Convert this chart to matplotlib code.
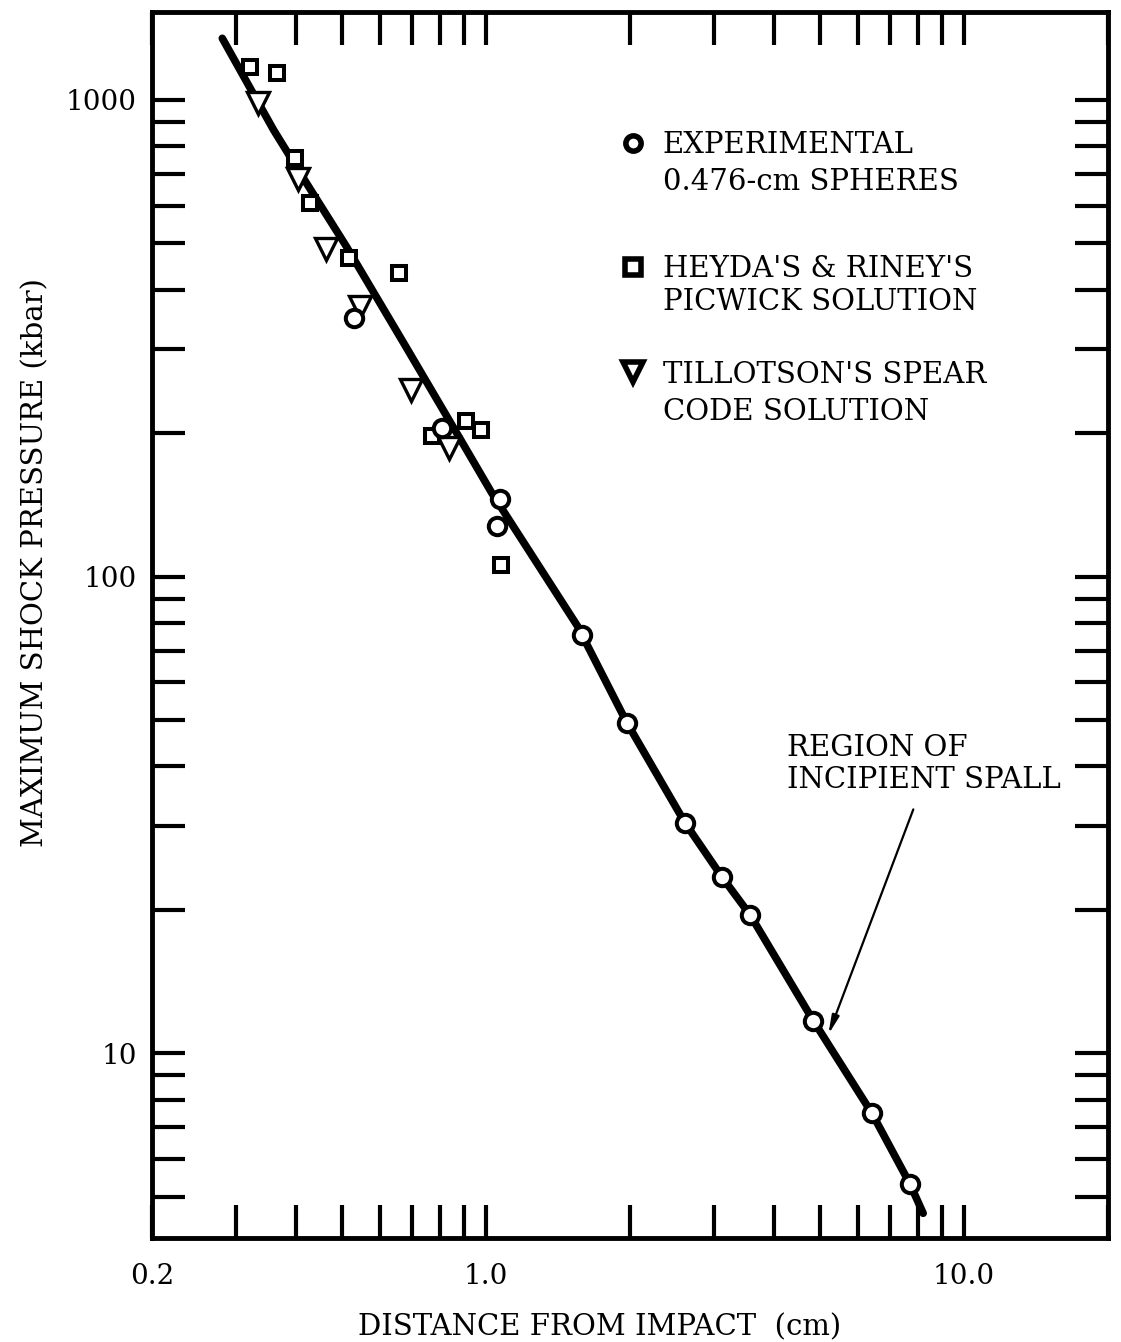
import matplotlib
matplotlib.use("Agg")
import matplotlib.pyplot as plt
from matplotlib.ticker import FixedLocator, LogLocator, NullFormatter

plt.rcParams['font.family'] = ['DejaVu Serif']

# experimental points, 0.476-cm spheres
exp_x = [0.530, 0.809, 1.069, 1.055, 1.59, 1.97, 2.61, 3.12, 3.57, 4.84, 6.41, 7.70]
exp_y = [349, 205, 145.5, 128, 75.6, 49.4, 30.4, 23.4, 19.5, 11.7, 7.5, 5.33]

# Heyda & Riney PICWICK solution
pic_x = [0.321, 0.366, 0.398, 0.428, 0.5165, 0.658, 0.771, 0.909, 0.976, 1.073]
pic_y = [1174, 1138, 755, 607, 466, 434, 197, 212, 203, 106]

# Tillotson SPEAR code solution
spear_x = [0.333, 0.405, 0.463, 0.545, 0.6955, 0.835]
spear_y = [984, 682, 486, 368, 246, 186]

# faired curve
curve_x = [0.2806, 0.3593, 0.421, 0.510, 0.679, 0.876, 1.027, 1.554, 1.97,
           2.61, 3.12, 3.57, 4.84, 6.41, 7.70, 8.21]
curve_y = [1347, 865, 669, 493, 304, 197, 150, 78.7, 49.4,
           30.4, 23.4, 19.5, 11.7, 7.5, 5.33, 4.62]

xticks = [0.2, 1.0, 10.0]
xticklabels = ['0.2', '1.0', '10.0']
yticks = [10, 100, 1000]
yticklabels = ['10', '100', '1000']

fig = plt.figure(figsize=(11.21, 13.42), dpi=100)
ax = fig.add_axes([0.1356, 0.0775, 0.8528, 0.9136])

ax.plot(curve_x, curve_y, color='black', lw=5.5, solid_capstyle='round',
        solid_joinstyle='round', zorder=2)
ax.plot(exp_x, exp_y, 'o', ms=12.5, mew=2.9, mfc='white', mec='black', zorder=4)
ax.plot(pic_x, pic_y, 's', ms=10, mew=2.9, mfc='white', mec='black', zorder=3)
ax.plot(spear_x, spear_y, 'v', ms=16, mew=2.4, mfc='white', mec='black', zorder=3)

ax.set_xscale('log')
ax.set_yscale('log')
ax.set_xlim(0.2, 20)
ax.set_ylim(4.1, 1530)

ax.xaxis.set_major_locator(FixedLocator(xticks))
ax.set_xticklabels(xticklabels)
ax.xaxis.set_minor_locator(LogLocator(base=10, subs=range(2, 10)))
ax.xaxis.set_minor_formatter(NullFormatter())
ax.yaxis.set_major_locator(FixedLocator(yticks))
ax.set_yticklabels(yticklabels)
ax.yaxis.set_minor_locator(LogLocator(base=10, subs=range(2, 10)))
ax.yaxis.set_minor_formatter(NullFormatter())

ax.tick_params(which='both', direction='in', length=24, width=3,
               top=True, right=True, labelsize=20)
ax.tick_params(axis='x', which='major', pad=18)
ax.tick_params(axis='y', which='major', pad=11)
for s in ax.spines.values():
    s.set_linewidth(3.5)

ax.set_xlabel('DISTANCE FROM IMPACT  (cm)', fontsize=21)
ax.xaxis.set_label_coords(0.4686, -0.0795)
ax.xaxis.label.set_verticalalignment('baseline')
ax.set_ylabel('MAXIMUM SHOCK PRESSURE (kbar)', fontsize=21)
ax.yaxis.set_label_coords(-0.107, 0.5506)

# legend drawn by hand, marker beside the first line of each entry
legend_markers = ['o', 's', 'v']
legend_line1 = ['EXPERIMENTAL', "HEYDA'S & RINEY'S", "TILLOTSON'S SPEAR"]
legend_line2 = ['0.476-cm SPHERES', 'PICWICK SOLUTION', 'CODE SOLUTION']
legend_mark_y = [0.893, 0.792, 0.706]
legend_base1 = [0.885, 0.7838, 0.6974]
legend_base2 = [0.8548, 0.7569, 0.6672]
for mk, t1, t2, ym, b1, b2 in zip(legend_markers, legend_line1, legend_line2,
                                  legend_mark_y, legend_base1, legend_base2):
    ms = {'o': 11, 's': 11, 'v': 15}[mk]
    ax.plot([0.503], [ym], mk, ms=ms, mew=4, mfc='white', mec='black',
            transform=ax.transAxes, clip_on=False)
    ax.text(0.534, b1, t1, transform=ax.transAxes, fontsize=21,
            ha='left', va='baseline')
    ax.text(0.534, b2, t2, transform=ax.transAxes, fontsize=21,
            ha='left', va='baseline')

ax.annotate('', xy=(5.20, 10.96), xytext=(7.83, 32.5),
            arrowprops=dict(arrowstyle='-|>,head_length=1.1,head_width=0.22',
                            lw=1.6, color='black', shrinkA=0, shrinkB=0))
ax.text(4.27, 40.5, 'REGION OF\nINCIPIENT SPALL', fontsize=21,
        ha='left', va='center', linespacing=1.2)

fig.savefig('out.png', dpi=100)
